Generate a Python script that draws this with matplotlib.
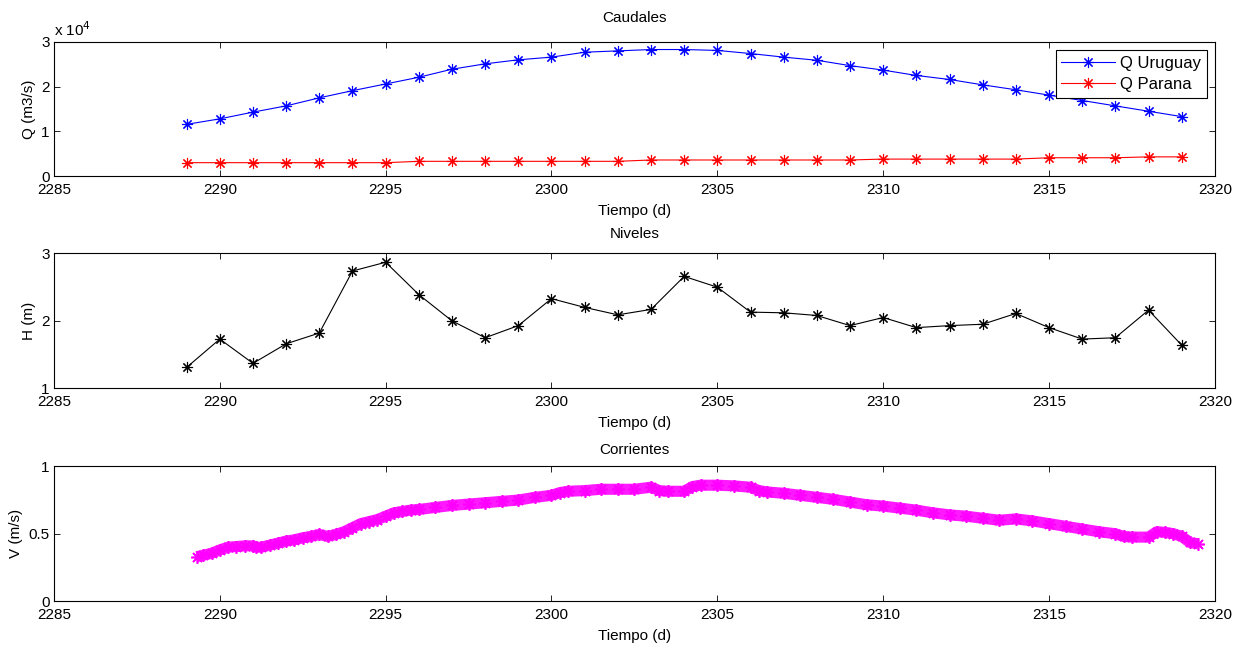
import numpy as np
import matplotlib
matplotlib.use("Agg")
import matplotlib.pyplot as plt
from matplotlib.ticker import FuncFormatter

plt.rcParams["font.family"] = ["Liberation Sans", "DejaVu Sans"]
plt.rcParams["font.size"] = 11

# ---- data ----
dias = np.arange(2289, 2320)
q_uruguay = [11570, 12800, 14300, 15700, 17500, 19100, 20600, 22100, 23900, 25100,
             26000, 26600, 27700, 28000, 28300, 28300, 28100, 27400, 26600, 25900,
             24700, 23700, 22500, 21600, 20400, 19300, 18100, 16900, 15700, 14500, 13300]
q_parana = [3000, 3000, 3000, 3000, 3000, 3000, 3000, 3300, 3300, 3300,
            3300, 3300, 3300, 3300, 3600, 3600, 3600, 3600, 3600, 3600,
            3600, 3800, 3800, 3800, 3800, 3800, 4100, 4100, 4100, 4300, 4300]
h_niveles = [1.31, 1.73, 1.37, 1.66, 1.82, 2.74, 2.87, 2.39, 2.00, 1.75,
             1.93, 2.33, 2.20, 2.09, 2.17, 2.66, 2.50, 2.13, 2.12, 2.08,
             1.93, 2.05, 1.90, 1.93, 1.95, 2.11, 1.90, 1.73, 1.75, 2.16, 1.64]

t_corr = [2289.3, 2289.5, 2289.75, 2290.0, 2290.25, 2290.5, 2290.75, 2291.0, 2291.1, 2291.25,
          2291.5, 2291.75, 2292.0, 2292.25, 2292.5, 2292.75, 2293.0, 2293.25, 2293.5, 2293.75,
          2294.0, 2294.25, 2294.5, 2294.75, 2295.0, 2295.25, 2295.5, 2295.75, 2296.0, 2296.5,
          2297.0, 2297.5, 2298.0, 2298.5, 2299.0, 2299.5, 2300.0, 2300.25, 2300.5, 2301.0,
          2301.5, 2302.0, 2302.5, 2303.0, 2303.25, 2303.5, 2304.0, 2304.25, 2304.5, 2305.0,
          2305.5, 2306.0, 2306.25, 2306.5, 2307.0, 2307.5, 2308.0, 2308.5, 2309.0, 2309.5,
          2310.0, 2310.5, 2311.0, 2311.5, 2312.0, 2312.5, 2313.0, 2313.5, 2314.0, 2314.5,
          2315.0, 2315.5, 2316.0, 2316.5, 2317.0, 2317.25, 2317.5, 2318.0, 2318.25, 2318.5,
          2318.75, 2319.0, 2319.25, 2319.5]
v_corr = [0.33, 0.34, 0.355, 0.38, 0.40, 0.405, 0.41, 0.41, 0.40, 0.40,
          0.415, 0.43, 0.445, 0.455, 0.47, 0.48, 0.495, 0.48, 0.495, 0.515,
          0.545, 0.575, 0.59, 0.605, 0.63, 0.655, 0.665, 0.675, 0.68, 0.695,
          0.71, 0.72, 0.73, 0.74, 0.75, 0.77, 0.785, 0.805, 0.815, 0.82,
          0.83, 0.83, 0.83, 0.845, 0.82, 0.815, 0.815, 0.85, 0.86, 0.86,
          0.855, 0.845, 0.82, 0.81, 0.80, 0.785, 0.77, 0.755, 0.735, 0.715,
          0.705, 0.69, 0.675, 0.655, 0.64, 0.63, 0.615, 0.60, 0.61, 0.595,
          0.575, 0.555, 0.535, 0.515, 0.50, 0.48, 0.475, 0.475, 0.515, 0.51,
          0.50, 0.48, 0.435, 0.425]

xticks = np.arange(2285, 2321, 5)
AST = (8, 2, 0)   # matlab-like asterisk marker

fig = plt.figure(figsize=(12.35, 6.45), dpi=100)
L, W = 0.0437, 0.940
axQ = fig.add_axes([L, 0.727, W, 0.208])
axH = fig.add_axes([L, 0.398, W, 0.209])
axV = fig.add_axes([L, 0.068, W, 0.209])


def matlab_axes(ax, tpad):
    ax.set_xlim(2285, 2320)
    ax.set_xticks(xticks)
    ax.tick_params(direction="in", top=True, right=True, length=4, width=0.6, labelsize=11)
    ax.tick_params(axis="x", pad=5)
    ax.tick_params(axis="y", pad=3)
    for s in ax.spines.values():
        s.set_linewidth(0.8)
    ax.set_xlabel("Tiempo (d)", fontsize=11, labelpad=5)
    ax.set_title(ax.get_title(), fontsize=11, pad=tpad)


# ---- Caudales ----
axQ.plot(dias, q_uruguay, "-", marker=AST, color="blue", lw=0.8, ms=8, mew=0.8, label="Q Uruguay")
axQ.plot(dias, q_parana, "-", marker=AST, color="red", lw=0.8, ms=8, mew=0.8, label="Q Parana")
axQ.set_ylim(0, 30000)
axQ.set_yticks([0, 10000, 20000, 30000])
axQ.yaxis.set_major_formatter(FuncFormatter(lambda v, p: "%d" % round(v / 1e4)))
axQ.text(0.0, 1.025, r"x 10$^{4}$", transform=axQ.transAxes, fontsize=11, va="bottom")
axQ.set_ylabel("Q (m3/s)")
axQ.set_title("Caudales")
matlab_axes(axQ, 14)
leg = axQ.legend(loc="upper right", fontsize=12, fancybox=False, framealpha=1,
                 edgecolor="black", borderaxespad=0.5, handlelength=3.2, borderpad=0.35,
                 labelspacing=0.35, handletextpad=0.3)
leg.get_frame().set_linewidth(0.8)

# ---- Niveles ----
axH.plot(dias, h_niveles, "-", marker=AST, color="black", lw=0.8, ms=8, mew=0.8)
axH.set_ylim(1, 3)
axH.set_yticks([1, 2, 3])
axH.set_ylabel("H (m)")
axH.set_title("Niveles")
matlab_axes(axH, 11)

# ---- Corrientes ----
axV.plot(t_corr, v_corr, "-", color="magenta", lw=8, alpha=0.9, solid_capstyle="butt")
axV.plot(t_corr, v_corr, linestyle="none", marker=AST, color="magenta", ms=9, mew=1.2)
axV.set_ylim(0, 1)
axV.set_yticks([0, 0.5, 1])
axV.yaxis.set_major_formatter(FuncFormatter(lambda v, p: "%g" % v))
axV.set_ylabel("V (m/s)")
axV.set_title("Corrientes")
matlab_axes(axV, 9)

fig.savefig("out.png", dpi=100)
